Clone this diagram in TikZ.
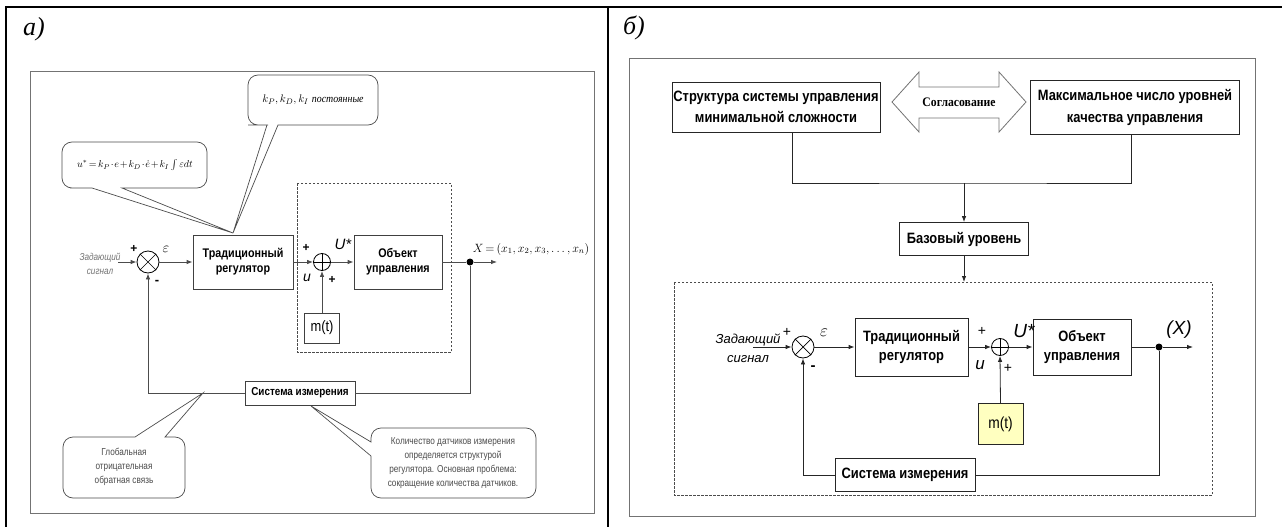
\documentclass[tikz,border=0pt]{standalone}
\usepackage{fontspec}
\setmainfont{Liberation Sans}
\newfontfamily\nb[FakeStretch=0.86]{Liberation Sans}
\newfontfamily\nr[FakeStretch=0.82]{Liberation Sans}
\newfontfamily\tnr{Liberation Serif}
\newfontfamily\tnrn[FakeStretch=0.9]{Liberation Serif}
\usetikzlibrary{arrows.meta}
\definecolor{myyellow}{HTML}{FFFFC0}
\tikzset{
  arr/.style={-{Latex[length=6pt,width=4.5pt]}},
  frame/.style={draw=black!55, line width=0.9pt},
  conL/.style={draw=black!70, line width=0.8pt},
  conR/.style={draw=black!85, line width=0.8pt},
  boxL/.style={draw=black!75, line width=0.8pt, fill=white, align=center, inner sep=0pt,
    font=\nb\bfseries\fontsize{12.5}{15}\selectfont},
  boxR/.style={draw=black!85, line width=0.8pt, fill=white, align=center, inner sep=0pt,
    font=\nb\bfseries\fontsize{15}{19}\selectfont},
  sumnode/.style={circle, draw, line width=0.8pt, fill=white, inner sep=0pt},
  dotnode/.style={circle, fill=black, inner sep=0pt, minimum size=7pt},
  dashbox/.style={draw=black!70, line width=0.7pt, dash pattern=on 2.5pt off 1.5pt},
  callout/.style={draw=black!70, line width=0.7pt, fill=white},
  lbl/.style={inner sep=0pt},
}
\begin{document}
\begin{tikzpicture}[x=1pt,y=-1pt]
\useasboundingbox (0,0) rectangle (1282,527);
% ---------- outer table ----------
\draw[line width=1.6pt] (6,7) -- (1282,7);
\draw[line width=1.6pt] (6,6.2) -- (6,527);
\draw[line width=1.6pt] (608,6.2) -- (608,527);
\node[lbl, font=\tnr\itshape\fontsize{26}{26}\selectfont] (la) at (34,29) {а)};
\node[lbl, font=\tnr\itshape\fontsize{26}{26}\selectfont] (lb) at (634,28) {б)};

% =============== LEFT PANEL ===============
\draw[frame] (30,71) rectangle (594,513);
\draw[dashbox] (297,183) rectangle (451,352);

% callouts
\draw[callout] (92,188) -- (233,233) -- (122,188) -- (150,188) [rounded corners=10pt] -- (207,188) -- (207,142) -- (62,142) -- (62,188) -- (80,188) [sharp corners] -- cycle;
\draw[callout] (267,125) -- (233,233) -- (278,125) -- (320,125) [rounded corners=10pt] -- (378,125) -- (378,75) -- (248,75) -- (248,125) -- (258,125) [sharp corners] -- cycle;
\node[lbl, font=\fontsize{10}{12}\selectfont] (f1) at (135,165) {\medmuskip=1.5mu\thickmuskip=2.5mu$u^{*}=k_{P}\cdot e+k_{D}\cdot\dot e+k_{I}\int\varepsilon dt$};
\node[lbl, font=\fontsize{11}{13}\selectfont] (f2) at (313,100) {$k_{P},k_{D},k_{I}$ {\tnrn\itshape постоянные}};

\node[sumnode, minimum size=22pt] (s1) at (148,262) {};
\draw[line width=0.7pt] (s1.45) -- (s1.225) (s1.135) -- (s1.315);
\node[boxL, minimum width=100pt, minimum height=54pt] (reg) at (243,262) {Традиционный\\регулятор};
\node[sumnode, minimum size=17pt] (s2) at (322,262) {};
\draw[line width=0.7pt] (s2.north) -- (s2.south) (s2.west) -- (s2.east);
\node[boxL, minimum width=88pt, minimum height=54pt] (obj) at (398,262) {Объект\\управления};
\node[boxL, minimum width=35pt, minimum height=30pt, font=\nb\fontsize{15}{16}\selectfont] (mt) at (322,328) {m(t)};
\node[dotnode] (d1) at (470,262) {};
\coordinate (o1) at (497,262);
\coordinate (in1) at (118,262);
\node[boxL, minimum width=110pt, minimum height=24pt, font=\nb\bfseries\fontsize{11.5}{14}\selectfont] (sys) at (300,393) {Система измерения};

\draw[conL, arr] (in1) -- (s1.west);
\draw[conL, arr] (s1.east) -- (reg.west);
\draw[conL, arr] (reg.east) -- (s2.west);
\draw[conL, arr] (s2.east) -- (obj.west);
\draw[conL] (obj.east) -- (d1);
\draw[conL, arr] (d1) -- (o1);
\draw[conL, arr] (mt.north) -- (s2.south);
\draw[conL] (d1) |- (sys.east);
\draw[conL, arr] (sys.west) -| (s1.south);

\node[lbl, align=center, text=black!55, font=\nr\itshape\fontsize{10}{14}\selectfont] (zad1) at (100,264) {Задающий\\сигнал};
\node[lbl, font=\bfseries\fontsize{12}{12}\selectfont] (p1) at (134,249) {+};
\node[lbl, font=\bfseries\fontsize{13}{13}\selectfont] (m1) at (157,282) {-};
\node[lbl, font=\fontsize{14}{14}\selectfont] (e1) at (166,249) {$\varepsilon$};
\node[lbl, font=\bfseries\fontsize{12}{12}\selectfont] (p2) at (306,248) {+};
\node[lbl, font=\itshape\fontsize{14}{14}\selectfont] (u1) at (307,278) {u};
\node[lbl, font=\bfseries\fontsize{12}{12}\selectfont] (p3) at (332,280) {+};
\node[lbl, font=\itshape\fontsize{15}{15}\selectfont] (U1) at (343,244) {U*};
\node[lbl, font=\fontsize{12}{14}\selectfont] (X1) at (531,249) {\medmuskip=2mu\thickmuskip=3mu$X=\left(x_1,x_2,x_3,\ldots,x_n\right)$};

\draw[callout] (135,437) -- (203,393) -- (165,437) -- (170,437) [rounded corners=10pt] -- (185,437) -- (185,498) -- (63,498) -- (63,437) -- (100,437) [sharp corners] -- cycle;
\node[lbl, align=center, text=black!70, font=\nr\fontsize{10}{14}\selectfont] (glob) at (124,467) {Глобальная\\отрицательная\\обратная связь};
\draw[callout] (371,456) -- (311,406) -- (371,442) -- (371,440) [rounded corners=10pt] -- (371,428) -- (536,428) -- (536,498) -- (371,498) -- (371,470) [sharp corners] -- cycle;
\node[lbl, align=center, text=black!70, font=\nr\fontsize{10}{14}\selectfont] (kol) at (453,463) {Количество датчиков измерения\\определяется структурой\\регулятора. Основная проблема:\\сокращение количества датчиков.};

% =============== RIGHT PANEL ===============
\draw[frame] (629,58) rectangle (1255,516);
\node[boxR, minimum width=208pt, minimum height=50pt, font=\nb\bfseries\fontsize{15}{21}\selectfont] (str) at (776,107) {Структура системы управления\\минимальной сложности};
\node[boxR, minimum width=209pt, minimum height=54pt, font=\nb\bfseries\fontsize{15}{22}\selectfont] (max) at (1135,107) {Максимальное число уровней\\качества управления};
\draw[draw=black!55, line width=0.8pt, fill=white] (892,102) -- (919,72) -- (919,87) -- (999,87) -- (999,72) -- (1026,102) -- (999,132) -- (999,118) -- (919,118) -- (919,132) -- cycle;
\node[lbl, font=\tnrn\bfseries\fontsize{13}{13}\selectfont] (agr) at (959,102) {Согласование};
\coordinate (j) at (964,183);
\node[boxR, minimum width=129pt, minimum height=33pt] (base) at (964,239) {Базовый уровень};
\draw[conR] ([xshift=16pt]str.south) |- (j) -| ([xshift=-4pt]max.south);
\draw[conR, arr] (j) -- (base.north);
\draw[dashbox] (674,282) rectangle (1212,495);
\coordinate (dt) at (964,282);
\draw[conR, arr] (base.south) -- (dt);

\node[sumnode, minimum size=22pt] (s3) at (803,347) {};
\draw[line width=0.7pt] (s3.45) -- (s3.225) (s3.135) -- (s3.315);
\node[boxR, minimum width=113pt, minimum height=58pt] (reg2) at (911.5,347) {Традиционный\\регулятор};
\node[sumnode, minimum size=17pt] (s4) at (1000,347) {};
\draw[line width=0.7pt] (s4.north) -- (s4.south) (s4.west) -- (s4.east);
\node[boxR, minimum width=98pt, minimum height=56pt] (obj2) at (1082,347) {Объект\\управления};
\node[boxR, fill=myyellow, minimum width=45pt, minimum height=41pt, font=\nb\fontsize{16}{18}\selectfont] (mt2) at (1000.5,424) {m(t)};
\node[dotnode] (d2) at (1159,347) {};
\coordinate (o2) at (1193,347);
\coordinate (in2) at (753,347);
\node[boxR, minimum width=140pt, minimum height=33pt] (sys2) at (905,475) {Система измерения};

\draw[conR, arr] (in2) -- (s3.west);
\draw[conR, arr] (s3.east) -- (reg2.west);
\draw[conR, arr] (reg2.east) -- (s4.west);
\draw[conR, arr] (s4.east) -- (obj2.west);
\draw[conR] (obj2.east) -- (d2);
\draw[conR, arr] (d2) -- (o2);
\draw[conR, arr] (mt2.north) -- (s4.south);
\draw[conR] (d2) |- (sys2.east);
\draw[conR, arr] (sys2.west) -| (s3.south);

\node[lbl, align=center, font=\itshape\fontsize{13}{19}\selectfont] (zad2) at (748,348) {Задающий\\сигнал};
\node[lbl, font=\fontsize{14}{14}\selectfont] (p4) at (787,332) {+};
\node[lbl, font=\bfseries\fontsize{15}{15}\selectfont] (m4) at (813,368) {-};
\node[lbl, font=\fontsize{16}{16}\selectfont] (e2) at (824,333) {$\varepsilon$};
\node[lbl, font=\fontsize{14}{14}\selectfont] (p5) at (982,331) {+};
\node[lbl, font=\itshape\fontsize{17}{17}\selectfont] (u2) at (980,365) {u};
\node[lbl, font=\fontsize{14}{14}\selectfont] (p6) at (1008,368) {+};
\node[lbl, font=\itshape\fontsize{19}{19}\selectfont] (U2) at (1024,331) {U*};
\node[lbl, font=\itshape\fontsize{19}{19}\selectfont] (X2) at (1179,330) {(X)};
\end{tikzpicture}
\end{document}
